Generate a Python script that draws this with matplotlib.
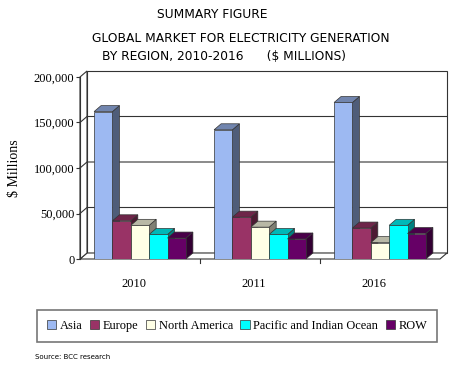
import numpy as np
import matplotlib
matplotlib.use("Agg")
import matplotlib.pyplot as plt
from matplotlib.patches import Polygon, Patch
from matplotlib.colors import to_rgb

years = ["2010", "2011", "2016"]
regions = ["Asia", "Europe", "North America", "Pacific and Indian Ocean", "ROW"]
asia = [162000, 142000, 172000]
europe = [42000, 46000, 34000]
north_america = [37000, 35000, 18000]
pacific = [27000, 27000, 37000]
row = [23000, 22000, 28000]
series = [asia, europe, north_america, pacific, row]
colors = ["#9DB9F2", "#993366", "#FFFFE6", "#00FFFF", "#660066"]


def shade(c, f):
    r, g, b = to_rgb(c)
    return (r * f, g * f, b * f)


W, H = 457, 369
fig = plt.figure(figsize=(W / 100, H / 100), dpi=100)
ax_l, ax_b, ax_w, ax_h = 80 / W, 110 / H, 360 / W, 182 / H
ax = fig.add_axes([ax_l, ax_b, ax_w, ax_h])
ymax = 200000
ax.set_xlim(-0.5, 2.5)
ax.set_ylim(0, ymax)

# depth offset (pixels -> data units)
dx = 7 / 120.0
dy = 6 * ymax / 182.0
edge = "#333333"

# back wall, floor, left wall
ax.add_patch(Polygon([(-0.5 + dx, dy), (2.5 + dx, dy), (2.5 + dx, ymax + dy), (-0.5 + dx, ymax + dy)],
                     closed=True, facecolor="white", edgecolor=edge, lw=0.8, clip_on=False, zorder=0))
ax.add_patch(Polygon([(-0.5, 0), (2.5, 0), (2.5 + dx, dy), (-0.5 + dx, dy)],
                     closed=True, facecolor="white", edgecolor=edge, lw=0.8, clip_on=False, zorder=0))
ax.add_patch(Polygon([(-0.5, 0), (-0.5 + dx, dy), (-0.5 + dx, ymax + dy), (-0.5, ymax)],
                     closed=True, facecolor="white", edgecolor=edge, lw=0.8, clip_on=False, zorder=0))
for v in range(50000, ymax, 50000):
    ax.plot([-0.5, -0.5 + dx, 2.5 + dx], [v, v + dy, v + dy], color=edge, lw=0.8, clip_on=False, zorder=0.5)

n = len(series)
bw = 0.153
x = np.arange(len(years))
z = 2
for i, (vals, c) in enumerate(zip(series, colors)):
    xs = x - n * bw / 2 + i * bw
    for xl, v in zip(xs, vals):
        ax.add_patch(Polygon([(xl + bw, 0), (xl + bw + dx, dy), (xl + bw + dx, v + dy), (xl + bw, v)],
                             closed=True, facecolor=shade(c, 0.5), edgecolor=edge, lw=0.5, zorder=z, clip_on=False))
        ax.add_patch(Polygon([(xl, v), (xl + dx, v + dy), (xl + bw + dx, v + dy), (xl + bw, v)],
                             closed=True, facecolor=shade(c, 0.72), edgecolor=edge, lw=0.5, zorder=z, clip_on=False))
        ax.bar(xl, v, width=bw, align="edge", color=c, edgecolor=edge, lw=0.5, zorder=z + 0.1)
        z += 0.2

for s in ["top", "right", "bottom"]:
    ax.spines[s].set_visible(False)
ax.spines["left"].set_color(edge)
ax.set_yticks(range(0, ymax + 1, 50000))
ax.set_yticklabels([f"{v:,}" for v in range(0, ymax + 1, 50000)], family="Liberation Serif", fontsize=9)
ax.tick_params(axis="y", length=3, color=edge, pad=1)
ax.set_xticks(x - 0.05)
ax.set_xticklabels(years, family="Liberation Serif", fontsize=9)
ax.tick_params(axis="x", length=0, pad=14)
for t in [0.5, 1.5]:
    ax.plot([t, t], [0, -ymax * 0.02], color=edge, lw=0.8, clip_on=False)
ax.set_ylabel("$ Millions", family="Liberation Serif", fontsize=10, labelpad=9)

fig.text(212 / W, 1 - 14 / H, "SUMMARY FIGURE", ha="center", va="center", fontsize=8.8, family="DejaVu Sans")
fig.text(241 / W, 1 - 38 / H, "GLOBAL MARKET FOR ELECTRICITY GENERATION", ha="center", va="center",
         fontsize=8.8, family="DejaVu Sans")
fig.text(102 / W, 1 - 57 / H, "BY REGION, 2010-2016      ($ MILLIONS)", ha="left", va="center", fontsize=8.8,
         family="DejaVu Sans")

handles = [Patch(facecolor=c, edgecolor=edge, lw=0.5) for c in colors]
leg = fig.legend(handles, regions, loc="center", bbox_to_anchor=(237 / W, 1 - 326 / H), ncol=5, frameon=True,
                 fancybox=False, edgecolor="#555555", prop={"family": "Liberation Serif", "size": 8.9},
                 handlelength=0.75, handleheight=0.75, handletextpad=0.3, columnspacing=0.6,
                 borderpad=0.8, borderaxespad=0)
leg.get_frame().set_linewidth(1.2)

fig.text(35 / W, 1 - 357 / H, "Source: BCC research", fontsize=5, family="DejaVu Sans", va="center")

fig.savefig("out.png", dpi=100)
